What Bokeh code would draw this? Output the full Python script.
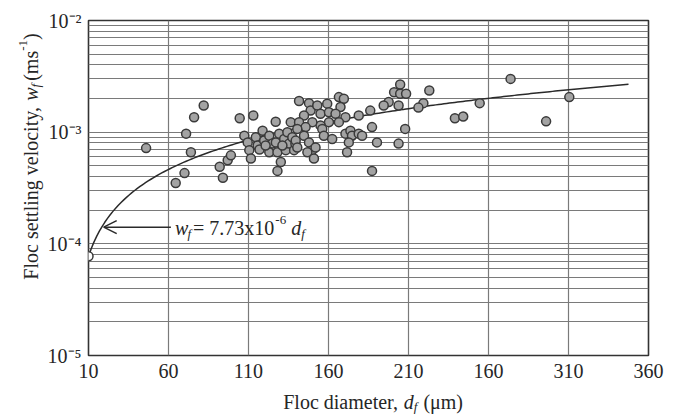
import math
import numpy as np
from bokeh.plotting import figure
from bokeh.layouts import column, row
from bokeh.models import Range1d, FixedTicker, Label, Arrow, OpenHead
from bokeh.embed import file_html
from bokeh.resources import INLINE

# ---------------- data ----------------
floc_diameter_um = [
    46, 64.5, 70, 71, 74, 76, 82, 92, 94, 97, 99, 104.5, 113, 127, 136.4,
    107.4, 109.5, 110.5, 111.5, 114.6, 115.7, 118.8, 119.8, 123, 123, 125, 127.1, 128.1,
    129.2, 132.3, 133.3, 134.3, 135.4, 137.4, 138.5, 130.2, 128.1, 116.9, 120.7, 131.2, 139.3,
    141.6, 147.8, 148.8, 153, 155, 159.2, 160.3, 166.5, 169.6, 167.5,
    164.4, 170.6, 166.5, 160.3, 155, 149.9, 144.7, 141.6, 145.7, 140.5,
    144.7, 139.5, 140.5, 147.8, 149.9, 146.8, 151.9, 150.9, 156.1, 157.1,
    162.3, 170.6, 173.7, 174.7, 178.9, 181, 172.7, 171.6, 178.9, 186.1, 187.2,
    204.8, 201, 204.8, 208.5, 223, 197.6, 194.5, 203.8, 219.3, 216.2, 187.2, 207.9, 190.3, 203.8,
    273.8, 254.5, 239, 244.2, 296, 310.5,
]
# settling velocity in units of 1e-3 m/s
settling_velocity_e3 = [
    0.72, 0.35, 0.43, 0.97, 0.66, 1.36, 1.73, 0.49, 0.39, 0.56, 0.62, 1.33, 1.41, 1.24, 1.23,
    0.93, 0.81, 0.69, 0.58, 0.90, 0.76, 1.03, 0.84, 0.93, 0.66, 0.79, 0.81, 0.66,
    0.97, 0.87, 0.69, 1.00, 0.79, 0.90, 0.69, 0.54, 0.45, 0.70, 0.76, 0.76, 0.79,
    1.90, 1.82, 1.56, 1.73, 1.46, 1.80, 1.51, 2.06, 1.99, 1.68,
    1.46, 1.36, 1.23, 1.23, 1.15, 1.23, 1.41, 1.23, 1.11, 1.07,
    0.93, 0.84, 0.73, 0.81, 0.69, 0.66, 0.73, 0.58, 1.07, 0.93,
    0.87, 0.97, 1.03, 0.93, 0.97, 0.93, 0.81, 0.66, 1.41, 1.56, 0.45,
    2.67, 2.28, 2.21, 2.21, 2.36, 1.86, 1.73, 1.73, 1.82, 1.66, 1.11, 1.07, 0.81, 0.79,
    3.00, 1.82, 1.33, 1.38, 1.25, 2.06,
]
assert len(floc_diameter_um) == len(settling_velocity_e3)
settling_velocity = [v * 1e-3 for v in settling_velocity_e3]

fit_coefficient = 7.73e-6          # w_f = 7.73x10^-6 d_f
fit_d_start, fit_d_end = 10, 347.5

x_ticks = [10, 60, 110, 160, 210, 260, 310, 360]
x_tick_labels = ["10", "60", "110", "160", "210", "160", "310", "360"]
y_ticks = [1e-5, 1e-4, 1e-3, 1e-2]
y_tick_labels = ["10\u207b\u2075", "10\u207b\u2074", "10\u207b\u00b3", "10\u207b\u00b2"]

# ---------------- styles ----------------
FONT = "Liberation Serif"
TXT = "#262626"
GRID = "#7a7a7a"

LEFT_W = 44          # width of the strip holding the y title
MAIN_W = 683 - LEFT_W
MAIN_H = 387
BOTTOM_H = 414 - MAIN_H

p = figure(width=MAIN_W, height=MAIN_H, title=None,
           x_range=Range1d(10, 360), y_range=Range1d(1e-5, 1e-2),
           y_axis_type="log", output_backend="svg", toolbar_location=None,
           min_border_left=85 - LEFT_W, min_border_right=MAIN_W - (85 - LEFT_W) - 563,
           min_border_top=20, min_border_bottom=MAIN_H - 20 - 335)
p.background_fill_color = "white"
p.border_fill_color = "white"
p.outline_line_color = "#333333"
p.outline_line_width = 1.6

p.xaxis.ticker = FixedTicker(ticks=x_ticks)
p.xaxis.major_label_overrides = {t: l for t, l in zip(x_ticks, x_tick_labels)}
minor_y = [k * 10.0 ** e for e in range(-5, -2) for k in range(2, 10)]
p.yaxis.ticker = FixedTicker(ticks=y_ticks, minor_ticks=minor_y)
p.yaxis.major_label_overrides = {t: l for t, l in zip(y_ticks, y_tick_labels)}

for ax in (p.xaxis, p.yaxis):
    ax.axis_line_color = None
    ax.major_tick_line_color = None
    ax.minor_tick_line_color = None
    ax.major_tick_out = 0
    ax.major_tick_in = 0
    ax.minor_tick_out = 0
    ax.minor_tick_in = 0
    ax.major_label_text_font = FONT
    ax.major_label_text_font_size = "20px"
    ax.major_label_text_color = TXT
p.xaxis.major_label_standoff = 8
p.yaxis.major_label_standoff = 7

p.xgrid.ticker = FixedTicker(ticks=x_ticks)
p.xgrid.grid_line_color = GRID
p.xgrid.grid_line_width = 1.2
p.ygrid.ticker = FixedTicker(ticks=y_ticks, minor_ticks=minor_y)
p.ygrid.grid_line_color = GRID
p.ygrid.grid_line_width = 1.2
p.ygrid.minor_grid_line_color = GRID
p.ygrid.minor_grid_line_width = 1.2

# fitted curve from the chart's own equation
d_fit = np.linspace(fit_d_start, fit_d_end, 200)
p.line(d_fit, fit_coefficient * d_fit, line_color="#2a2a2a", line_width=1.5)

# data points
p.scatter(floc_diameter_um, settling_velocity, size=9, fill_color="#a3a3a3",
          line_color="#3a3a3a", line_width=1.5)

# open circle at the start of the fit
p.scatter([fit_d_start], [fit_coefficient * fit_d_start], size=9, fill_color="white",
          line_color="#3a3a3a", line_width=1.5)

# ---------------- rich text helper ----------------
ROMAN = {' ': .25, '(': .333, ')': .333, ',': .25, '-': .333, '.': .25, '=': .564,
         'F': .556, 'a': .444, 'c': .444, 'd': .5, 'e': .444, 'g': .5, 'i': .278, 'l': .278,
         'm': .778, 'n': .5, 'o': .5, 'r': .333, 's': .389, 't': .278, 'v': .5, 'x': .5,
         'y': .5, '\u03bc': .576}
ITAL = {'w': .667, 'f': .278, 'd': .5}


def tw(s, size, italic):
    table = ITAL if italic else ROMAN
    return sum(table.get(c, .5) for c in s) * size


def rich(fig, pieces, x, y, base_dx, base_dy, vertical=False, center=False):
    total = sum(tw(t, sz, it) + gap for t, sz, it, sh, gap in pieces)
    adv = -total / 2 if center else 0.0
    for t, sz, it, shift, gap in pieces:
        adv += gap
        if vertical:
            xo, yo, ang = base_dx - shift, base_dy + adv, math.pi / 2
        else:
            xo, yo, ang = base_dx + adv, base_dy + shift, 0
        fig.add_layout(Label(x=x, y=y, x_offset=xo, y_offset=yo, text=t, angle=ang,
                             text_font=FONT, text_font_size=f"{sz}px",
                             text_font_style="italic" if it else "normal",
                             text_color=TXT, text_align="left", text_baseline="alphabetic"))
        adv += tw(t, sz, it)


def text_strip(w, h):
    f = figure(width=w, height=h, title=None, x_range=Range1d(0, w), y_range=Range1d(0, h),
               x_axis_location=None, y_axis_location=None, output_backend="svg",
               toolbar_location=None, min_border=0)
    f.outline_line_color = None
    f.grid.visible = False
    f.background_fill_color = "white"
    f.border_fill_color = "white"
    return f


# y axis title (rotated), in a strip left of the plot
ytitle = text_strip(LEFT_W, MAIN_H)
rich(ytitle, [("Floc settling velocity, ", 20, False, 0, 0), ("w", 20, True, 0, 0),
              ("f", 13, True, -5, 0), ("(ms", 20, False, 0, 3), ("-1", 13, False, 8, 0),
              (")", 20, False, 0, 0)],
     0, 0, 30, MAIN_H - 188, vertical=True, center=True)

# x axis title, in a strip below the plot
xtitle = text_strip(683, BOTTOM_H)
rich(xtitle, [("Floc diameter, ", 20, False, 0, 0), ("d", 20, True, 0, 0), ("f", 13, True, -5, 0),
              ("(\u03bcm)", 20, False, 0, 6)], 0, 0, 373, 414 - 401, center=True)

# equation annotation
eq_x, eq_y = 66, 1.19e-4
rich(p, [("w", 20, True, 0, 0), ("f", 13, True, -5, -1), ("= 7.73x10", 20, False, 0, 2),
         ("-6", 13, False, 8, 1), ("d", 20, True, 0, 5), ("f", 13, True, -5, 0)],
     eq_x, eq_y, -3, 7)

p.add_layout(Arrow(end=OpenHead(size=13, line_width=1.5, line_color="#2a2a2a"),
                   x_start=61.5, y_start=1.41e-4, x_end=19.5, y_end=1.41e-4,
                   line_width=1.5, line_color="#2a2a2a"))

layout = column(row(ytitle, p, spacing=0), xtitle, spacing=0)
open("out.html", "w").write(file_html(layout, INLINE))
